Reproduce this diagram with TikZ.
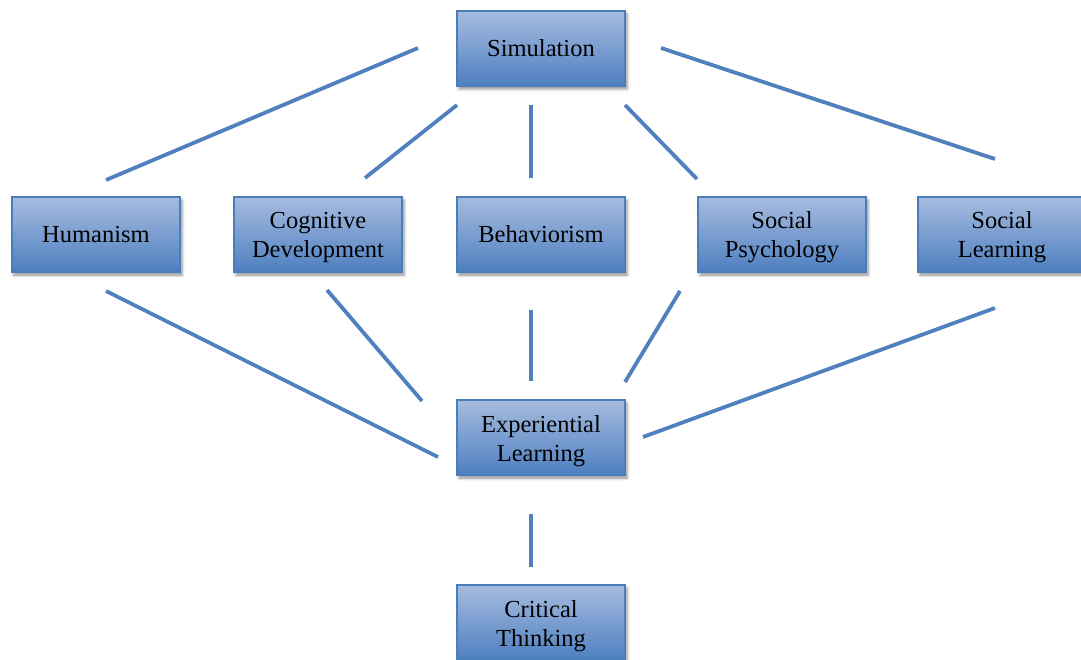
\documentclass[tikz,border=0pt]{standalone}
\usepackage{fontspec}
\setmainfont{Liberation Serif}
\usetikzlibrary{shadows.blur}
\definecolor{boxtop}{HTML}{A6BCE0}
\definecolor{boxbot}{HTML}{4E7FC0}
\definecolor{boxedge}{HTML}{4A7EBB}
\definecolor{linkc}{HTML}{5080BE}
\newcommand\pushdown[1]{\rule{0pt}{#1}}
\tikzset{
  box/.style={draw=boxedge, line width=1.2pt, top color=boxtop, bottom color=boxbot,
    minimum width=168pt, minimum height=75pt, inner sep=0pt, align=center,
    font=\fontsize{24.5}{29}\selectfont,
    blur shadow={shadow xshift=2pt, shadow yshift=-3pt, shadow blur radius=3pt, shadow opacity=45}},
  link/.style={draw=linkc, line width=3.8pt}
}
\begin{document}
\begin{tikzpicture}[x=1pt,y=-1pt]
\useasboundingbox (0,0) rectangle (1081,660);
\node[box] (sim) at (541,48.5) {Simulation};
\node[box] (hum) at (96,234.5) {Humanism};
\node[box] (cog) at (318,234.5) {\pushdown{23pt}Cognitive\\Development};
\node[box] (beh) at (541,234.5) {Behaviorism};
\node[box] (psy) at (782,234.5) {\pushdown{23pt}Social\\Psychology};
\node[box] (soc) at (1002,234.5) {\pushdown{23pt}Social\\Learning};
\node[box] (exp) at (541,437.5) {\pushdown{24pt}Experiential\\Learning};
\node[box] (crit) at (541,622.5) {\pushdown{25pt}Critical\\Thinking};
% free ends of the connectors
\coordinate (a1) at (418,48);  \coordinate (a2) at (106,180);
\coordinate (b1) at (457,105); \coordinate (b2) at (365,178);
\coordinate (c1) at (531,105); \coordinate (c2) at (531,178);
\coordinate (d1) at (625,105); \coordinate (d2) at (697,179);
\coordinate (e1) at (661,48);  \coordinate (e2) at (995,159);
\coordinate (f1) at (106,291); \coordinate (f2) at (438,457);
\coordinate (g1) at (327,290); \coordinate (g2) at (422,401);
\coordinate (h1) at (531,310); \coordinate (h2) at (531,381);
\coordinate (i1) at (680,291); \coordinate (i2) at (625,382);
\coordinate (j1) at (995,308); \coordinate (j2) at (643,437);
\coordinate (k1) at (531,514); \coordinate (k2) at (531,567);
\draw[link] (a1) -- (a2);
\draw[link] (b1) -- (b2);
\draw[link] (c1) -- (c2);
\draw[link] (d1) -- (d2);
\draw[link] (e1) -- (e2);
\draw[link] (f1) -- (f2);
\draw[link] (g1) -- (g2);
\draw[link] (h1) -- (h2);
\draw[link] (i1) -- (i2);
\draw[link] (j1) -- (j2);
\draw[link] (k1) -- (k2);
\end{tikzpicture}
\end{document}
